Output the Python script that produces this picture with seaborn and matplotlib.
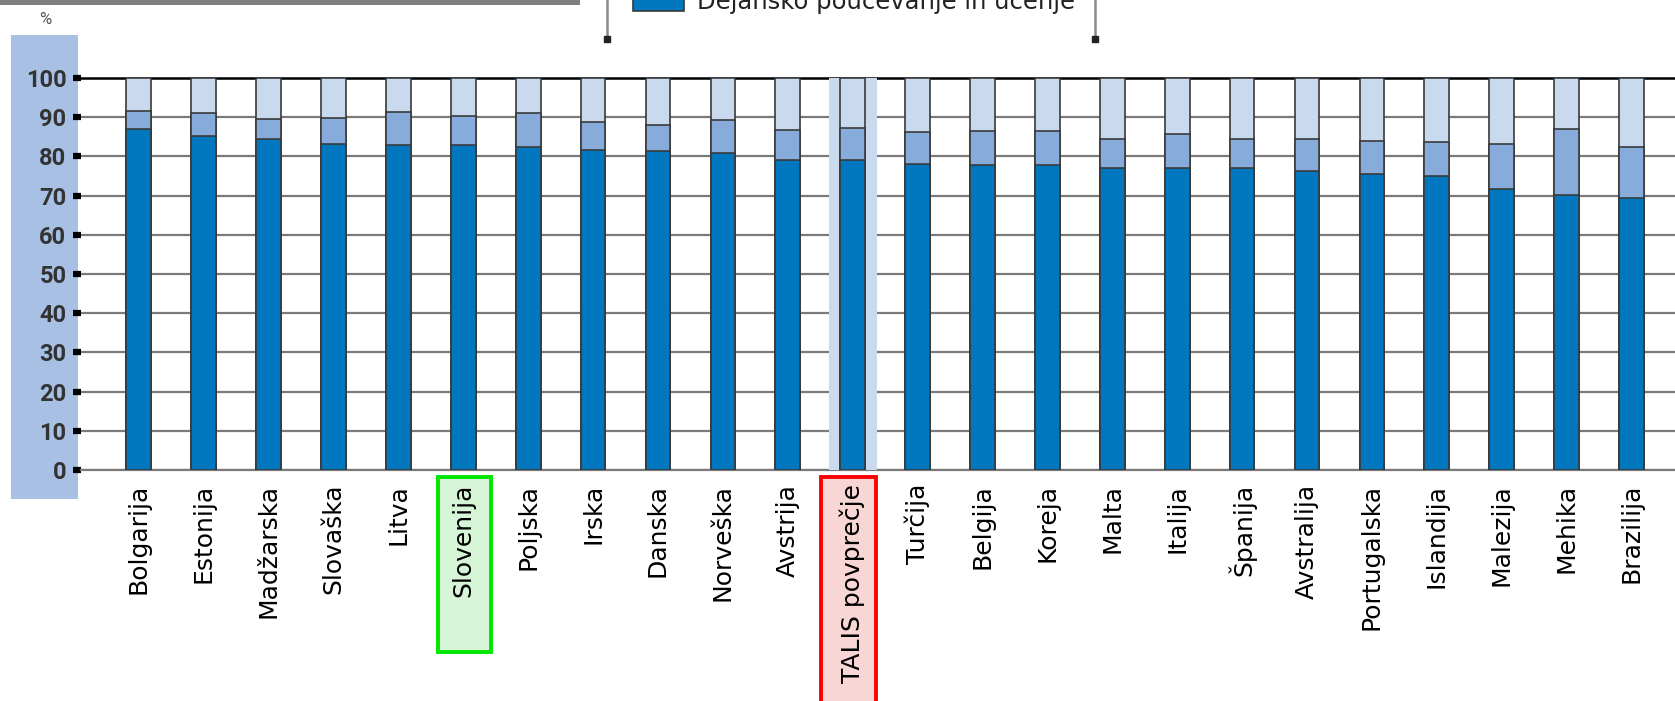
import numpy as np
import pandas as pd
import matplotlib
matplotlib.use("Agg")
import matplotlib.pyplot as plt
import matplotlib.transforms as mtransforms
from matplotlib.patches import Rectangle
from matplotlib.lines import Line2D
import seaborn as sns

# podatki (odčitani s slike)
drzave = ["Bolgarija", "Estonija", "Madžarska", "Slovaška", "Litva", "Slovenija",
          "Poljska", "Irska", "Danska", "Norveška", "Avstrija", "TALIS povprečje",
          "Turčija", "Belgija", "Koreja", "Malta", "Italija", "Španija",
          "Avstralija", "Portugalska", "Islandija", "Malezija", "Mehika", "Brazilija"]
poucevanje = [87.0, 85.3, 84.4, 83.1, 82.8, 82.8, 82.5, 81.7, 81.5, 80.8, 79.1, 79.0,
              78.1, 77.8, 77.8, 77.0, 77.0, 77.0, 76.4, 75.5, 75.1, 71.7, 70.2, 69.4]
administracija = [4.7, 5.7, 5.1, 6.7, 8.4, 7.4, 8.5, 7.2, 6.4, 8.4, 7.7, 8.2,
                  8.1, 8.8, 8.7, 7.4, 8.8, 7.4, 8.0, 8.5, 8.5, 11.4, 16.8, 12.9]
red_v_razredu = [8.3, 9.0, 10.5, 10.2, 8.8, 9.8, 9.0, 11.1, 12.1, 10.8, 13.2, 12.8,
                 13.8, 13.4, 13.5, 15.6, 14.2, 15.6, 15.6, 16.0, 16.4, 16.9, 13.0, 17.7]
y_ticks = [0, 10, 20, 30, 40, 50, 60, 70, 80, 90, 100]

df = pd.DataFrame({"drzava": drzave, "pouc": poucevanje,
                   "adm": administracija, "red": red_v_razredu})
df["sred"] = df["pouc"] + df["adm"]
df["vrh"] = df["sred"] + df["red"]

temno = "#0077be"
srednje = "#87acdb"
svetlo = "#c9d9ee"
rob = "#3a3a3a"

sns.set_style("white")
plt.rcParams["font.family"] = ["DejaVu Sans"]
ozka = ["Roboto", "DejaVu Sans"]

W, H = 1675, 701
fig = plt.figure(figsize=(W / 100, H / 100), dpi=100)

# modro polje za oznake osi y (pod osmi)
fig.patches.append(Rectangle((11 / W, 1 - 499 / H), 67 / W, 464 / H,
                             transform=fig.transFigure, facecolor="#a7c0e4",
                             edgecolor="none", zorder=-1))
# siv trak zgoraj levo
fig.patches.append(Rectangle((0, 1 - 5 / H), 580 / W, 6 / H,
                             transform=fig.transFigure, facecolor="#7f7f7f",
                             edgecolor="none"))

ax = fig.add_axes([81 / W, 1 - 470 / H, 1 - 81 / W, 392 / H])
ax.patch.set_alpha(0)

# pas za TALIS povprečje
ax.axvspan(10.63, 11.37, color=svetlo, zorder=0.5, lw=0)

kw = dict(data=df, x="drzava", order=drzave, width=0.38, saturation=1,
          edgecolor=rob, linewidth=1.2, ax=ax, zorder=3)
sns.barplot(y="vrh", color=svetlo, **kw)
sns.barplot(y="sred", color=srednje, **kw)
sns.barplot(y="pouc", color=temno, **kw)
for p in ax.patches:
    p.set_zorder(3)

ax.set_xlim(-0.89, 23.67)
ax.set_ylim(0, 100)
ax.set_yticks(y_ticks)
ax.set_xlabel("")
ax.set_ylabel("")

ax.yaxis.grid(True, color="#7a7a7a", lw=1.6, zorder=1)
ax.set_axisbelow(True)
for s in ["left", "right"]:
    ax.spines[s].set_visible(False)
ax.spines["bottom"].set_color("#7a7a7a")
ax.spines["bottom"].set_linewidth(1.6)
ax.spines["top"].set_color("black")
ax.spines["top"].set_linewidth(1.8)

ax.tick_params(axis="y", left=True, direction="out", length=5.5, width=4.5,
               color="black", pad=5, labelsize=17, labelcolor="#333333")
for t in ax.get_yticklabels():
    t.set_family(ozka)
    t.set_fontweight("bold")
ax.tick_params(axis="x", length=0, pad=10, labelsize=18, labelcolor="black")
plt.setp(ax.get_xticklabels(), rotation=90, va="top", ha="center")

# okvirja okoli Slovenije in TALIS povprečja
blend = mtransforms.blended_transform_factory(ax.transData, ax.transAxes)
ax.add_patch(Rectangle((4.61, -0.464), 0.81, 0.446, transform=blend,
                       facecolor="#d6f5d6", edgecolor="#00e600", lw=2.8,
                       clip_on=False, zorder=0))
ax.add_patch(Rectangle((10.51, -0.60), 0.85, 0.582, transform=blend,
                       facecolor="#f8d6d6", edgecolor="#ff0000", lw=2.8,
                       clip_on=False, zorder=0))

fig.text(45 / W, 1 - 20 / H, "%", fontsize=12, color="#555555",
         family=ozka, ha="center", va="center")

# odrezana legenda zgoraj
for xp in (607, 1095):
    fig.add_artist(Line2D([xp / W, xp / W], [1.0, 1 - 38 / H], color="#8a8a8a", lw=1.8,
                          transform=fig.transFigure))
    fig.add_artist(Line2D([xp / W], [1 - 39 / H], marker="s", ms=5, color="#222222",
                          transform=fig.transFigure))
fig.patches.append(Rectangle((633 / W, 1 - 11 / H), 51 / W, 14 / H,
                             transform=fig.transFigure, facecolor=temno,
                             edgecolor=rob, lw=1.2))
fig.text(697 / W, 1 - 9 / H, "Dejansko poučevanje in učenje", fontsize=17.5,
         color="#222222", ha="left", va="baseline")

fig.savefig("out.png", dpi=100)
